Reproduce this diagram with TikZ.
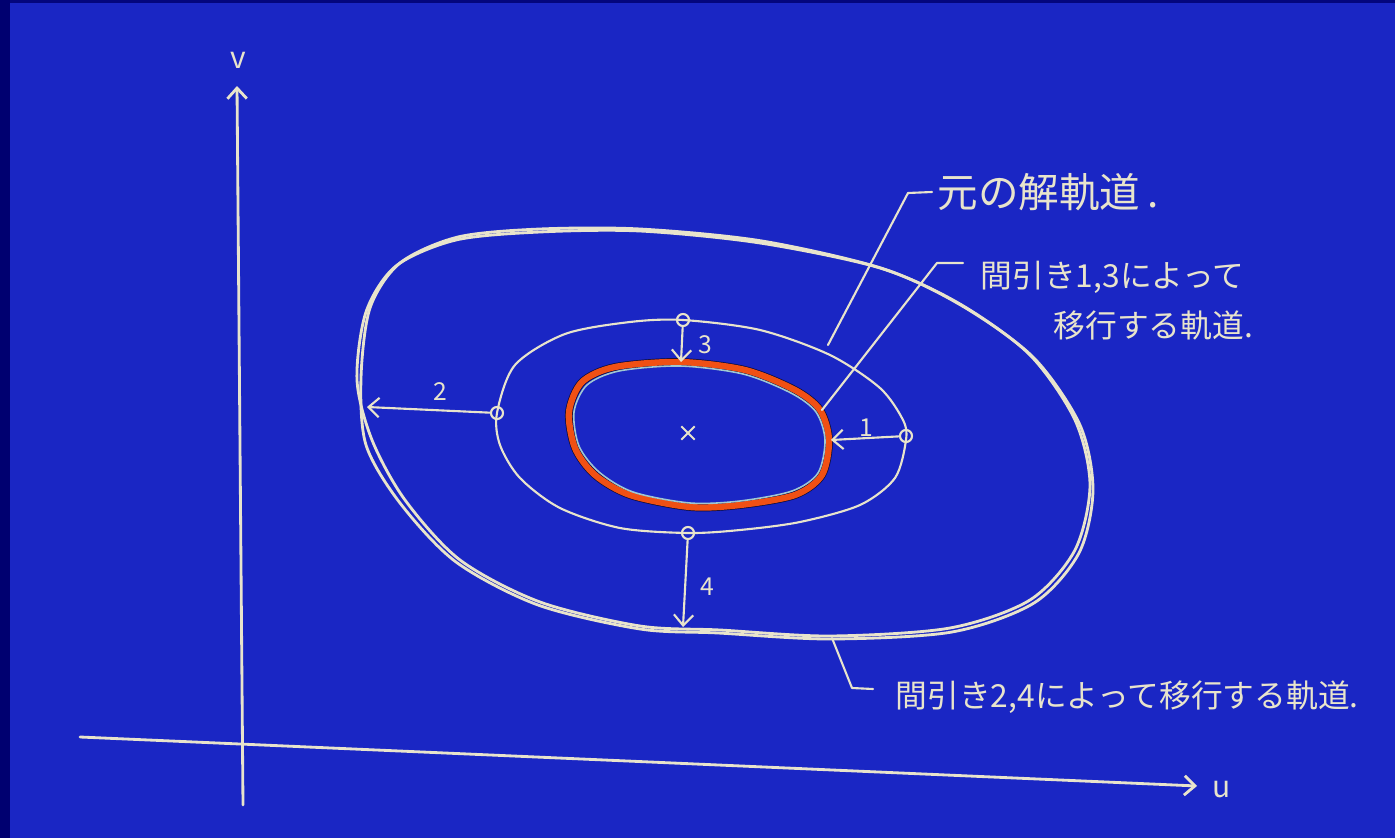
\documentclass[tikz,border=0pt]{standalone}
\usepackage{fontspec}
\newfontfamily\jp{Noto Sans CJK JP}
\usetikzlibrary{arrows.meta,shapes.misc}
\definecolor{bg}{RGB}{26,38,196}
\definecolor{edgecol}{RGB}{0,0,112}
\definecolor{chalk}{RGB}{232,228,204}
\definecolor{orb}{RGB}{240,80,20}
\definecolor{cyanline}{RGB}{160,200,210}
\begin{document}
\begin{tikzpicture}[x=0.2835pt,y=-0.2835pt,
  chalkline/.style={draw=chalk,line width=0.8pt,line cap=round,line join=round},
  thinline/.style={draw=chalk,line width=0.6pt,line cap=round,line join=round},
  tip/.style={-{Straight Barb[length=3pt,width=5.5pt]}},
  ring/.style={circle,draw=chalk,line width=0.6pt,minimum size=3.4pt,inner sep=0pt},
  lbl/.style={text=chalk,font=\jp\fontsize{9}{11}\selectfont,inner sep=0pt,anchor=west},
  biglbl/.style={text=chalk,font=\jp\fontsize{11.5}{13}\selectfont,inner sep=0pt,anchor=west},
  num/.style={text=chalk,font=\jp\fontsize{7}{8}\selectfont,inner sep=0pt},
  axlbl/.style={text=chalk,font=\jp\fontsize{8.5}{10}\selectfont,inner sep=0pt}
]
\fill[bg] (0,0) rectangle (1395,838);
\fill[edgecol] (0,0) rectangle (10,838);
\fill[edgecol!85!bg] (10,0) rectangle (1395,3);
\useasboundingbox (0,0) rectangle (1395,838);

% axes
\coordinate (vbot) at (243,805);
\coordinate (vtop) at (237,86);
\draw[chalkline,tip] (vbot) -- (vtop);
\node[axlbl] (vlab) at (238,60) {v};
\coordinate (ustart) at (80,737);
\coordinate (uend) at (1197,786);
\draw[chalkline,tip] (ustart) -- (uend);
\node[axlbl] (ulab) at (1222,790) {u};

% outer orbit (double stroke)
\draw[chalkline] plot[smooth cycle] coordinates {
(357,380)(366,312)(396,266)(456,240)(540,232)(640,231)(760,243)(880,268)
(960,304)(1030,355)(1075,420)(1090,485)(1075,550)(1030,600)(950,628)
(830,636)(720,630)(640,626)(540,602)(460,560)(405,500)(372,440)};
\draw[chalkline] plot[smooth cycle] coordinates {
(361,378)(370,308)(400,263)(458,237)(540,229)(640,229)(762,241)(884,269)
(964,307)(1034,358)(1080,425)(1093,490)(1079,553)(1034,603)(952,632)
(830,639)(718,633)(640,629)(538,605)(456,562)(400,503)(366,445)};

% middle orbit
\draw[thinline] plot[smooth cycle] coordinates {
(497,413)(515,365)(565,334)(630,322)(683,320)(760,330)(830,355)(880,388)
(903,420)(906,440)(895,478)(860,505)(800,522)(740,530)(688,533)(620,528)
(560,508)(520,478)(500,445)};

% red orbit
\draw[black!70!bg,line width=2.2pt,line join=round] plot[smooth cycle] coordinates {
(569,412)(582,382)(615,367)(680,362)(745,370)(795,390)(820,410)(829,440)
(822,475)(795,495)(740,505)(690,507)(630,495)(595,475)(575,448)};
\draw[orb,line width=1.8pt,line join=round] plot[smooth cycle] coordinates {
(569,412)(582,382)(615,367)(680,362)(745,370)(795,390)(820,410)(829,440)
(822,475)(795,495)(740,505)(690,507)(630,495)(595,475)(575,448)};
\draw[cyanline,line width=0.45pt] plot[smooth cycle] coordinates {
(574,412)(587,385)(619,371)(680,366)(743,374)(791,393)(816,412)(825,440)
(818,473)(792,491)(740,501)(690,503)(633,492)(599,472)(579,446)};

% centre
\node[cross out,draw=chalk,line width=0.6pt,minimum size=3.2pt,inner sep=0pt] (ctr) at (688,433) {};

% rings on middle orbit
\node[ring] (c1) at (906,436) {};
\node[ring] (c2) at (497,413) {};
\node[ring] (c3) at (683,320) {};
\node[ring] (c4) at (688,533) {};

\coordinate (e1) at (831,440);
\coordinate (e2) at (367,407);
\coordinate (e3) at (681,362);
\coordinate (e4) at (683,627);
\draw[thinline,tip] (c1) -- (e1);
\draw[thinline,tip] (c2) -- (e2);
\draw[thinline,tip] (c3) -- (e3);
\draw[thinline,tip] (c4) -- (e4);
\node[num] (n1) at (866,428) {1};
\node[num] (n2) at (440,392) {2};
\node[num] (n3) at (705,345) {3};
\node[num] (n4) at (707,587) {4};

% labels and leaders
\node[biglbl] (t1) at (937,192) {元の解軌道\,.};
\coordinate (a1) at (828,345);
\coordinate (b1) at (908,193);
\coordinate (d1) at (932,192);
\draw[thinline] (a1) -- (b1) -- (d1);

\node[lbl] (t2) at (980,277) {間引き1,3によって};
\node[lbl] (t2b) at (1053,325) {移行する軌道.};
\coordinate (a2) at (822,410);
\coordinate (b2) at (937,263);
\coordinate (d2) at (963,263);
\draw[thinline] (a2) -- (b2) -- (d2);

\node[lbl] (t3) at (895,697) {間引き2,4によって移行する軌道.};
\coordinate (a3) at (832,638);
\coordinate (b3) at (852,688);
\coordinate (d3) at (873,689);
\draw[thinline] (a3) -- (b3) -- (d3);
\end{tikzpicture}
\end{document}
